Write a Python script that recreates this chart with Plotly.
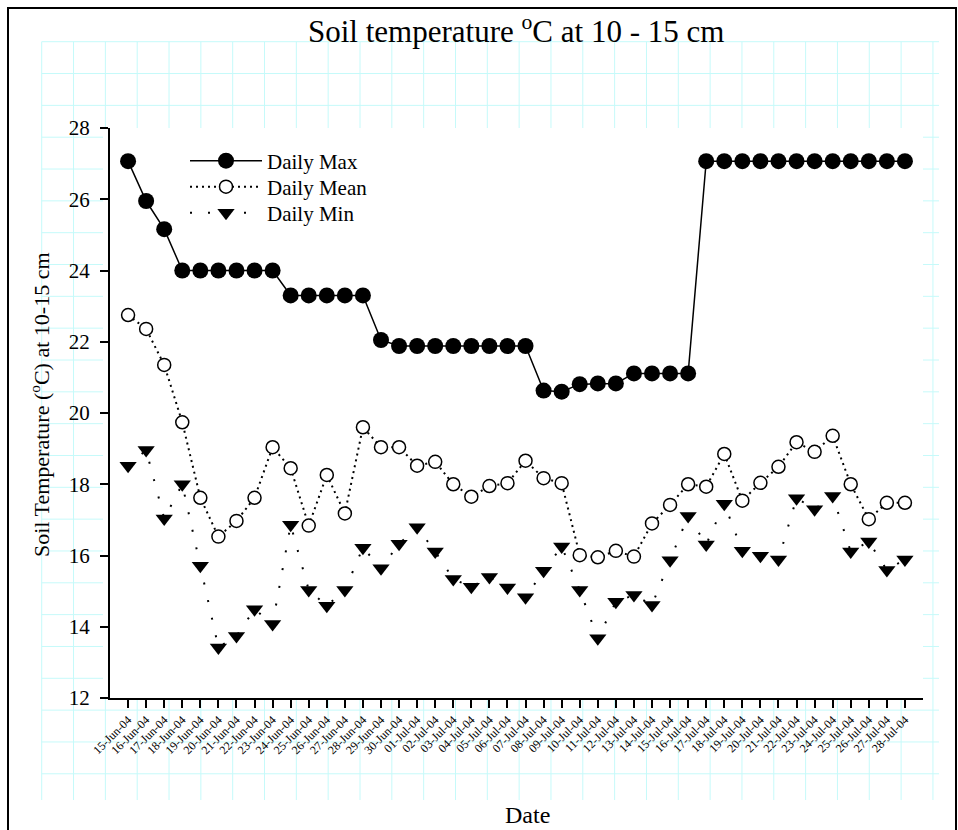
import plotly.graph_objects as go

dates = ["15-Jun-04", "16-Jun-04", "17-Jun-04", "18-Jun-04", "19-Jun-04", "20-Jun-04",
         "21-Jun-04", "22-Jun-04", "23-Jun-04", "24-Jun-04", "25-Jun-04", "26-Jun-04",
         "27-Jun-04", "28-Jun-04", "29-Jun-04", "30-Jun-04", "01-Jul-04", "02-Jul-04",
         "03-Jul-04", "04-Jul-04", "05-Jul-04", "06-Jul-04", "07-Jul-04", "08-Jul-04",
         "09-Jul-04", "10-Jul-04", "11-Jul-04", "12-Jul-04", "13-Jul-04", "14-Jul-04",
         "15-Jul-04", "16-Jul-04", "17-Jul-04", "18-Jul-04", "19-Jul-04", "20-Jul-04",
         "21-Jul-04", "22-Jul-04", "23-Jul-04", "24-Jul-04", "25-Jul-04", "26-Jul-04",
         "27-Jul-04", "28-Jul-04"]

daily_max = [27.07, 25.95, 25.16, 24.0, 24.0, 24.0, 24.0, 24.0, 24.0,
             23.3, 23.3, 23.3, 23.3, 23.3, 22.05,
             21.88, 21.88, 21.88, 21.88, 21.88, 21.88, 21.88, 21.88,
             20.63, 20.6, 20.81, 20.83, 20.83, 21.11, 21.11, 21.11, 21.11,
             27.07, 27.07, 27.07, 27.07, 27.07, 27.07, 27.07, 27.07, 27.07, 27.07, 27.07, 27.07]

daily_mean = [22.75, 22.36, 21.35, 19.74, 17.62, 16.53, 16.97, 17.62, 19.04, 18.45,
              16.84, 18.26, 17.18, 19.6, 19.04, 19.04, 18.52, 18.63, 18.0, 17.65,
              17.95, 18.03, 18.66, 18.17, 18.03, 16.01, 15.95, 16.13, 15.97, 16.9,
              17.42, 18.0, 17.93, 18.85, 17.54, 18.04, 18.49, 19.18, 18.91, 19.36,
              18.0, 17.02, 17.48, 17.48]

daily_min = [18.52, 18.96, 17.04, 18.0, 15.71, 13.42, 13.74, 14.49, 14.08, 16.86,
             15.03, 14.59, 15.03, 16.22, 15.64, 16.33, 16.79, 16.11, 15.34, 15.12,
             15.4, 15.1, 14.83, 15.57, 16.25, 15.03, 13.68, 14.7, 14.89, 14.61,
             15.87, 17.11, 16.31, 17.45, 16.13, 15.99, 15.89, 17.61, 17.3, 17.67,
             16.11, 16.39, 15.59, 15.89]

W, H = 958, 830
L, R, T, B = 110, 923, 128, 698  # plot area in pixels


def px(x):
    return (x - L) / (R - L)


def py(y):
    return (B - y) / (B - T)


FONT = "Liberation Serif, Times New Roman, serif"
CYAN = "#c6fafa"

shapes = []
step = 31.83
x0g, y0g = 41.7, 41.7
for k in range(29):
    xv = x0g + step * k
    shapes.append(dict(type="line", xref="paper", yref="paper", layer="below",
                       x0=px(xv), x1=px(xv), y0=py(y0g), y1=py(800),
                       line=dict(color=CYAN, width=1)))
for k in range(24):
    yv = y0g + step * k
    shapes.append(dict(type="line", xref="paper", yref="paper", layer="below",
                       x0=px(x0g), x1=px(939), y0=py(yv), y1=py(yv),
                       line=dict(color=CYAN, width=1)))
# white plotting area on top of the background grid
shapes.append(dict(type="rect", xref="paper", yref="paper", layer="below",
                   x0=px(103), x1=px(923), y0=py(698), y1=py(128),
                   fillcolor="white", line=dict(width=0)))
# outer frame
shapes.append(dict(type="rect", xref="paper", yref="paper", layer="above",
                   x0=px(8), x1=px(956), y0=py(832), y1=py(8),
                   fillcolor="rgba(0,0,0,0)", line=dict(color="black", width=2)))

fig = go.Figure()
fig.add_trace(go.Scatter(
    x=dates, y=daily_max, name="Daily Max", mode="lines+markers", legend="legend",
    line=dict(color="black", width=1.5),
    marker=dict(symbol="circle", size=16, color="black")))
fig.add_trace(go.Scatter(
    x=dates, y=daily_mean, name="Daily Mean", mode="lines+markers", legend="legend2",
    line=dict(color="black", width=2, dash="2px,4px"),
    marker=dict(symbol="circle", size=13, color="white",
                line=dict(color="black", width=1.5))))
fig.add_trace(go.Scatter(
    x=dates, y=daily_min, name="Daily Min", mode="lines+markers", legend="legend3",
    line=dict(color="black", width=2, dash="2px,16px"),
    marker=dict(symbol="triangle-down", size=15, color="black")))

annotations = [
    dict(text="Soil temperature <sup>o</sup>C at 10 - 15 cm", xref="paper", yref="paper",
         x=px(516), y=py(30), xanchor="center", yanchor="middle", showarrow=False,
         font=dict(family=FONT, size=31, color="black")),
    dict(text="Soil Temperature (<sup>o</sup>C) at 10-15 cm", xref="paper", yref="paper",
         x=px(40), y=py(405), xanchor="center", yanchor="middle", textangle=-90,
         showarrow=False, font=dict(family=FONT, size=22, color="black")),
    dict(text="Date", xref="paper", yref="paper",
         x=px(527), y=py(815), xanchor="center", yanchor="middle", showarrow=False,
         font=dict(family=FONT, size=24, color="black")),
]


def leg(ycenter):
    return dict(x=px(185), y=py(ycenter), xanchor="left", yanchor="middle",
                bgcolor="rgba(0,0,0,0)", borderwidth=0, itemwidth=72,
                font=dict(family=FONT, size=21, color="black"))


fig.update_layout(
    width=W, height=H,
    margin=dict(l=L, r=W - R, t=T, b=H - B, pad=0),
    paper_bgcolor="white", plot_bgcolor="rgba(0,0,0,0)",
    font=dict(family=FONT, color="black"),
    shapes=shapes, annotations=annotations,
    showlegend=True,
    legend=leg(161), legend2=leg(187), legend3=leg(213),
    hovermode=False,
)
fig.update_xaxes(type="category", range=[-1, 44], showgrid=False, zeroline=False,
                 showline=True, linecolor="black", linewidth=2,
                 ticks="outside", ticklen=8, tickwidth=1.5, tickcolor="black",
                 tickangle=-45, tickfont=dict(family=FONT, size=12, color="black"))
fig.update_yaxes(range=[12, 28], dtick=2, showgrid=False, zeroline=False,
                 showline=True, linecolor="black", linewidth=2,
                 ticks="outside", ticklen=8, tickwidth=1.5, tickcolor="black",
                 ticklabelstandoff=6,
                 tickfont=dict(family=FONT, size=21, color="black"))

fig.write_html("out.html")
